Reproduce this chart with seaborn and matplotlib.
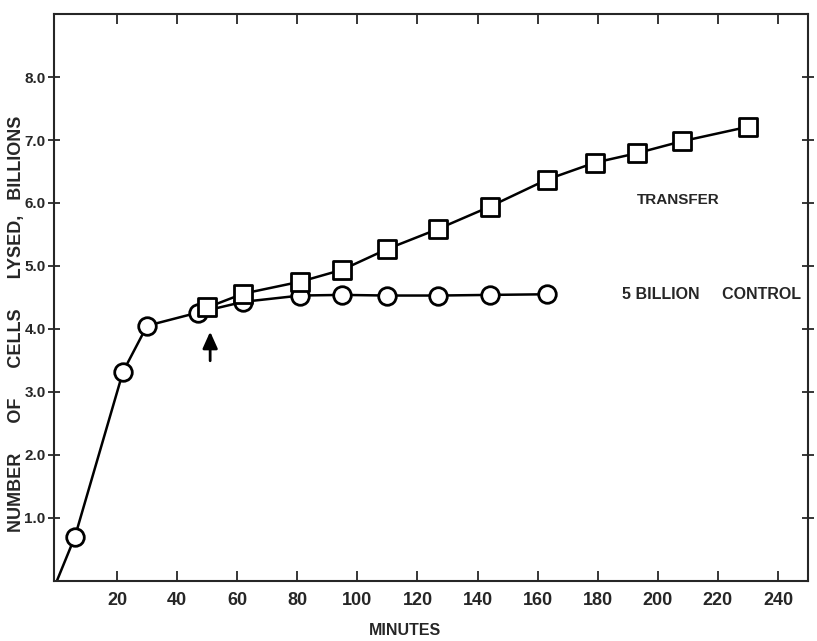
import numpy as np
import matplotlib.pyplot as plt
import pandas as pd
import seaborn as sns

# data
control_min = [0, 6, 22, 30, 47, 62, 81, 95, 110, 127, 144, 163]
control_lysed = [0, 0.70, 3.32, 4.05, 4.26, 4.43, 4.53, 4.54, 4.53, 4.53, 4.54, 4.55]
transfer_min = [50, 62, 81, 95, 110, 127, 144, 163, 179, 193, 208, 230]
transfer_lysed = [4.34, 4.56, 4.75, 4.94, 5.27, 5.59, 5.94, 6.37, 6.64, 6.79, 6.98, 7.21]
x_ticks = [20, 40, 60, 80, 100, 120, 140, 160, 180, 200, 220, 240]
y_ticks = [1, 2, 3, 4, 5, 6, 7, 8]
y_ticklabels = ["1.0", "2.0", "3.0", "4.0", "5.0", "6.0", "7.0", "8.0"]
transfer_time = 50  # arrow marks the transfer

sns.set_style("ticks")
plt.rcParams['font.family'] = ['Liberation Sans Narrow', 'Liberation Sans', 'DejaVu Sans']

control = pd.DataFrame({"minutes": control_min, "lysed": control_lysed})
transfer = pd.DataFrame({"minutes": transfer_min, "lysed": transfer_lysed})

fig = plt.figure(figsize=(8.17, 6.41), dpi=100)
ax = fig.add_axes([0.066, 0.094, 0.923, 0.884])

#lines
sns.lineplot(data=control, x="minutes", y="lysed", ax=ax, color="black", lw=1.8, sort=False)
sns.lineplot(data=transfer, x="minutes", y="lysed", ax=ax, color="black", lw=1.8, sort=False)
#markers (no marker at the origin)
sns.scatterplot(data=control[control.minutes > 0], x="minutes", y="lysed", ax=ax, marker="o",
                s=160, facecolor="white", edgecolor="black", linewidth=2, zorder=3)
sns.scatterplot(data=transfer, x="minutes", y="lysed", ax=ax, marker="s",
                s=150, facecolor="white", edgecolor="black", linewidth=2, zorder=4)

ax.annotate("", xy=(transfer_time + 1, 4.0), xytext=(transfer_time + 1, 3.45),
            arrowprops=dict(arrowstyle="-|>,head_width=0.45,head_length=1.0", color="black", lw=2))

ax.text(193, 6.05, "TRANSFER", fontsize=11, fontweight="bold", va="center")
ax.text(188, 4.54, "5 BILLION     CONTROL", fontsize=11.5, fontweight="bold", va="center")

ax.set_xlim(-1, 250)
ax.set_ylim(0, 9)
ax.set_xticks(x_ticks)
ax.set_yticks(y_ticks)
ax.set_xticklabels([str(t) for t in x_ticks], fontweight="bold")
ax.set_yticklabels(y_ticklabels, fontweight="bold")
ax.tick_params(axis="x", direction="in", top=True, length=7, width=1.3, labelsize=13, pad=8)
ax.tick_params(axis="y", direction="inout", right=True, length=8, width=1.3, labelsize=11, pad=2)
for sp in ax.spines.values():
    sp.set_visible(True)
    sp.set_linewidth(1.5)

ax.set_xlabel("MINUTES", fontsize=11.5, fontweight="bold")
ax.xaxis.set_label_coords(0.465, -0.075)
ax.set_ylabel("NUMBER      OF      CELLS      LYSED,   BILLIONS", fontsize=13, fontweight="bold")
ax.yaxis.set_label_coords(-0.038, 0.453)

fig.savefig("out.png", dpi=100)
